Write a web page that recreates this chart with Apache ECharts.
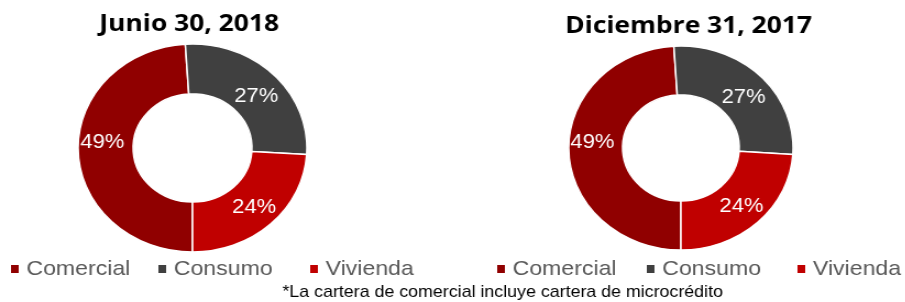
<!DOCTYPE html>
<html>
<head>
<meta charset="utf-8">
<script src="https://cdn.jsdelivr.net/npm/echarts@6/dist/echarts.min.js"></script>
<style>
  html, body { margin: 0; padding: 0; background: #fff; overflow: hidden; }
  /* the source picture is stretched sideways by about 10% */
  #chart { width: 823px; height: 302px; transform: scaleX(1.1); transform-origin: 0 0; }
</style>
</head>
<body>
<div id="chart"></div>
<script>
var categories = ['Comercial', 'Consumo', 'Vivienda'];
var colors = ['#900000', '#404040', '#C00000'];
var titles = ['Junio 30, 2018', 'Diciembre 31, 2017'];
var jun2018 = [49, 27, 24];
var dic2017 = [49, 27, 24];
var note = '*La cartera de comercial incluye cartera de microcrédito';

(function () {
    var chart = echarts.init(document.getElementById('chart'));

    // small nudges so the percent labels sit like in the source
    var labelNudge = [[0, -8], [0, 6], [0, 0]];

    function toData(values) {
        return categories.map(function (name, i) {
            return { name: name, value: values[i], label: { offset: labelNudge[i] } };
        });
    }

    function pie(name, values, cx, outer, inner) {
        return {
            name: name,
            type: 'pie',
            center: [cx, 148],
            radius: [inner, outer],
            startAngle: 270,
            clockwise: true,
            avoidLabelOverlap: false,
            itemStyle: { borderColor: '#fff', borderWidth: 1.5 },
            label: {
                show: true,
                position: 'inside',
                formatter: '{d}%',
                color: '#fff',
                fontSize: 20,
                fontFamily: 'Liberation Sans, Arial, sans-serif'
            },
            labelLine: { show: false },
            emphasis: { scale: false },
            data: toData(values)
        };
    }

    // one legend per item so each marker sits where the source puts it
    var legendLeft = [10, 144, 282, 452, 588, 725];
    var legends = legendLeft.map(function (x, i) {
        return {
            left: x,
            top: 257,
            icon: 'rect',
            itemWidth: 7,
            itemHeight: 8,
            padding: 0,
            itemStyle: { borderWidth: 0 },
            data: [categories[i % 3]],
            textStyle: {
                color: '#595959',
                fontSize: 21,
                lineHeight: 24,
                padding: [0, 0, 0, 2],
                fontFamily: 'Liberation Sans, Arial, sans-serif'
            }
        };
    });

    var option = {
        backgroundColor: '#fff',
        color: colors,
        animation: false,
        legend: legends,
        graphic: [
            {
                type: 'text', x: 172, y: 24,
                style: {
                    text: titles[0], align: 'center', verticalAlign: 'middle',
                    fontSize: 24, fontWeight: 'bold', fontFamily: 'Open Sans', fill: '#000'
                }
            },
            {
                type: 'text', x: 626, y: 26,
                style: {
                    text: titles[1], align: 'center', verticalAlign: 'middle',
                    fontSize: 24, fontWeight: 'bold', fontFamily: 'Open Sans', fill: '#000'
                }
            },
            {
                type: 'text', x: 457, y: 293,
                style: {
                    text: note, align: 'center', verticalAlign: 'middle',
                    fontSize: 16.2, fontFamily: 'Liberation Sans, Arial, sans-serif', fill: '#000'
                }
            }
        ],
        series: [
            pie(titles[0], jun2018, 175, 104, 54),
            pie(titles[1], dic2017, 619, 102, 53)
        ]
    };

    chart.setOption(option);
})();
</script>
</body>
</html>
